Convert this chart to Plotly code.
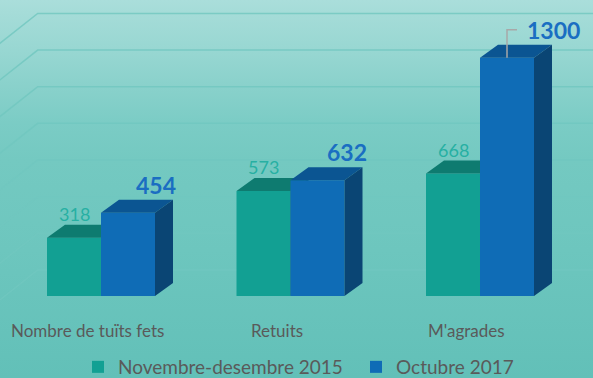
import plotly.graph_objects as go

# ---- data ---------------------------------------------------------------
categories = ["Nombre de tuïts fets", "Retuits", "M'agrades"]
series_names = ["Novembre-desembre 2015", "Octubre 2017"]
values_2015 = [318, 573, 668]
values_2017 = [454, 632, 1300]
gridline_values = [0, 200, 400, 600, 800, 1000, 1200, 1400]

# ---- projected scene geometry (pixels of the 593x378 canvas) -------------
W, H = 593, 378
GROUP_PX = 189.5        # distance between category centres
ORIGIN_X_PX = 101       # screen x of the first category centre
ZERO_Y_PX = 296         # screen y of the bar-front baseline
PX_PER_UNIT = 0.1833    # vertical pixels per count


def ux(px):
    """horizontal pixel length -> x-axis units"""
    return px / GROUP_PX


def uy(px):
    """vertical pixel length -> y-axis units"""
    return px / PX_PER_UNIT


x_range = [-ORIGIN_X_PX / GROUP_PX, (W - ORIGIN_X_PX) / GROUP_PX]
y_range = [(ZERO_Y_PX - H) / PX_PER_UNIT, ZERO_Y_PX / PX_PER_UNIT]

bar_w = ux(54)
depth_dx, depth_dy = ux(18), uy(13)

# colours
TEAL = dict(front="#12a093", top="#0e7b70", side="#0b6a60", label="#27b0a3")
BLUE = dict(front="#0f6cb6", top="#0b5592", side="#0a4574", label="#1a6ec2")
GRID = "rgba(112,199,191,0.8)"
TEXT = "#5a5a5a"
FONT = "Lato"

fig = go.Figure()

# ---- background: vertical gradient over the whole canvas ---------------
fig.add_trace(go.Scatter(
    x=[x_range[0], x_range[1], x_range[1], x_range[0], x_range[0]],
    y=[y_range[0], y_range[0], y_range[1], y_range[1], y_range[0]],
    mode="lines", line=dict(width=0), fill="toself",
    fillgradient=dict(
        type="vertical", start=y_range[0], stop=y_range[1],
        colorscale=[[0.0, "#62c0b8"], [0.339, "#6dc6be"], [0.577, "#74c9c1"],
                    [0.675, "#7bccc5"], [0.770, "#89d1cb"], [0.868, "#98d7d2"],
                    [0.966, "#a5dcd8"], [1.0, "#aadedb"]]),
    hoverinfo="skip", showlegend=False, xaxis="x", yaxis="y"))

# ---- back / side wall gridlines ------------------------------------------
wall_back_dy = uy(26)
wall_corner_x = x_range[0] + ux(37.7)
wall_side_dx, wall_side_dy = ux(48), uy(38)
gx, gy = [], []
for v in gridline_values:
    yb = v + wall_back_dy
    gx += [wall_corner_x - wall_side_dx, wall_corner_x, x_range[1], None]
    gy += [yb - wall_side_dy, yb, yb, None]
fig.add_trace(go.Scatter(x=gx, y=gy, mode="lines",
                         line=dict(color=GRID, width=1.5),
                         hoverinfo="skip", showlegend=False,
                         xaxis="x", yaxis="y"))


def add_series(name, values, centres, colors, axis_id):
    xa, ya = "x" + axis_id, "y" + axis_id
    # front faces
    fig.add_trace(go.Bar(x=centres, y=values, width=bar_w, name=name,
                         marker=dict(color=colors["front"], line=dict(width=0)),
                         hoverinfo="skip", xaxis=xa, yaxis=ya))
    # top and side faces of each prism
    tx, ty = [], []
    sx, sy = [], []
    for c, v in zip(centres, values):
        l, r = c - bar_w / 2, c + bar_w / 2
        tx += [l, r, r + depth_dx, l + depth_dx, l, None]
        ty += [v, v, v + depth_dy, v + depth_dy, v, None]
        sx += [r, r + depth_dx, r + depth_dx, r, r, None]
        sy += [0, depth_dy, v + depth_dy, v, 0, None]
    for px_, py_, col in ((tx, ty, colors["top"]), (sx, sy, colors["side"])):
        fig.add_trace(go.Scatter(x=px_, y=py_, mode="lines", fill="toself",
                                 fillcolor=col, line=dict(width=0, color=col),
                                 hoverinfo="skip", showlegend=False,
                                 xaxis=xa, yaxis=ya))


groups = list(range(len(categories)))
centres_2015 = [g - bar_w / 2 for g in groups]
centres_2017 = [g + bar_w / 2 for g in groups]

add_series(series_names[0], values_2015, centres_2015, TEAL, "2")
add_series(series_names[1], values_2017, centres_2017, BLUE, "3")

annotations = []

# value labels, older series: centred over the bar front
for c, v in zip(centres_2015, values_2015):
    annotations.append(dict(x=c, y=v + uy(24), xref="x", yref="y",
                            text=str(v), showarrow=False,
                            font=dict(family=FONT, size=18, color=TEAL["label"])))

# value labels, newer series: bold, to the upper right of the bar
blue_label_dx = [ux(28), ux(29), ux(46)]
leader_x, leader_y = [], []
for i, (c, v) in enumerate(zip(centres_2017, values_2017)):
    lx, ly = c + blue_label_dx[i], v + uy(28)
    annotations.append(dict(x=lx, y=ly, xref="x", yref="y",
                            text="<b>%d</b>" % v, showarrow=False,
                            font=dict(family=FONT, size=23, color=BLUE["label"])))
    if blue_label_dx[i] > ux(40):
        # detached label gets a leader line back to its bar
        leader_x += [c, c, c + ux(10), None]
        leader_y += [v, ly, ly, None]
fig.add_trace(go.Scatter(x=leader_x, y=leader_y, mode="lines",
                         line=dict(color="#a8a8a8", width=1.5),
                         hoverinfo="skip", showlegend=False,
                         xaxis="x3", yaxis="y3"))

# category labels under each pair
for g, name in zip(groups, categories):
    annotations.append(dict(x=g - ux(14), y=-uy(34), xref="x", yref="y",
                            text=name, showarrow=False,
                            font=dict(family=FONT, size=17, color=TEXT)))

axis_common = dict(visible=False, fixedrange=True, showgrid=False,
                   zeroline=False)
fig.update_layout(
    width=W, height=H,
    margin=dict(l=0, r=0, t=0, b=0, pad=0, autoexpand=False),
    paper_bgcolor="#6ec6be", plot_bgcolor="rgba(0,0,0,0)",
    hovermode=False,
    xaxis=dict(range=x_range, **axis_common),
    yaxis=dict(range=y_range, **axis_common),
    xaxis2=dict(range=x_range, overlaying="x", anchor="y2", **axis_common),
    yaxis2=dict(range=y_range, overlaying="y", anchor="x2", **axis_common),
    xaxis3=dict(range=x_range, overlaying="x", anchor="y3", **axis_common),
    yaxis3=dict(range=y_range, overlaying="y", anchor="x3", **axis_common),
    legend=dict(orientation="h", x=78 / W, xanchor="left", y=11 / H,
                yanchor="middle", bgcolor="rgba(0,0,0,0)",
                font=dict(family=FONT, size=19, color=TEXT),
                itemwidth=30, tracegroupgap=0,
                entrywidthmode="pixels", entrywidth=233),
    annotations=annotations,
)

fig.write_html("out.html", config=dict(displayModeBar=False))
